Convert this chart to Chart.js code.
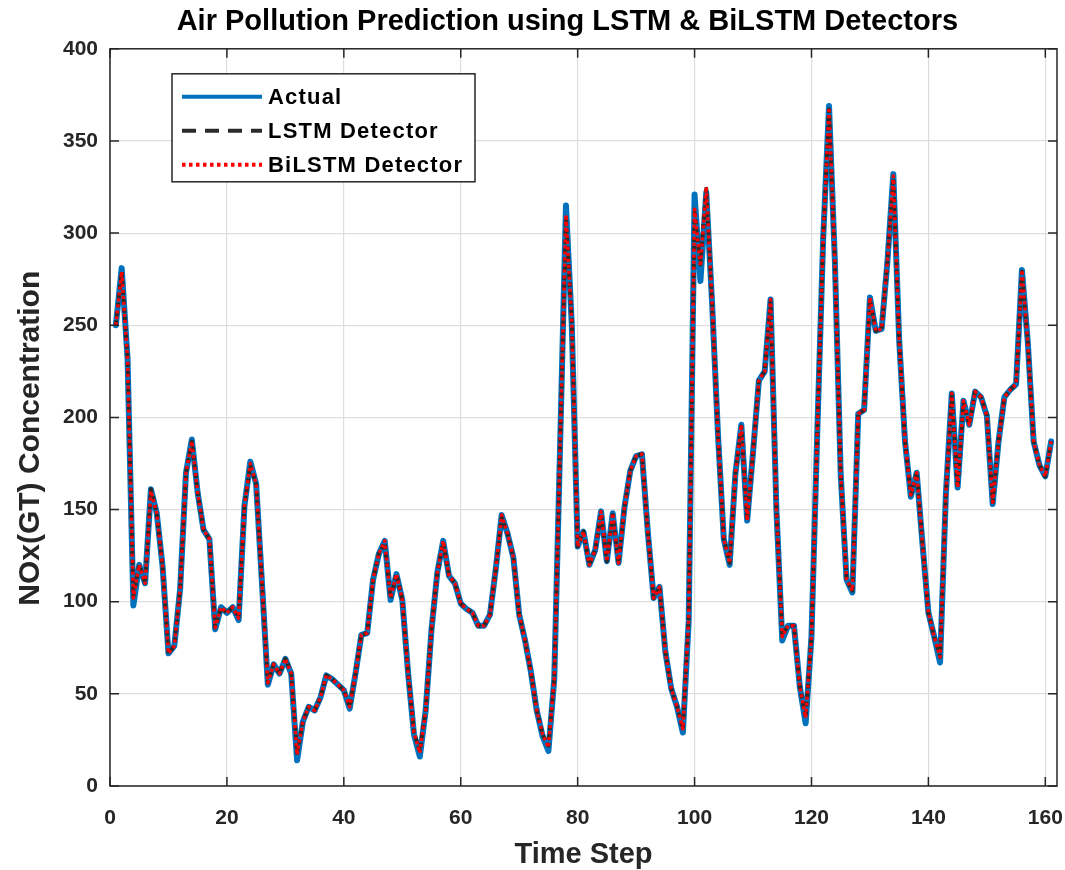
<!DOCTYPE html>
<html>
<head>
<meta charset="utf-8">
<title>Air Pollution Prediction</title>
<script src="https://cdn.jsdelivr.net/npm/chart.js@4.4.1/dist/chart.umd.min.js"></script>
<style>
  html, body { margin: 0; padding: 0; background: #fff; }
  #wrap { width: 1065px; height: 870px; }
</style>
</head>
<body>
<div id="wrap"><canvas id="chart" width="1065" height="870"></canvas></div>
<script>
// NOx(GT) values, one per time step (1..161)
const actual = [
  250, 281, 232, 98, 120, 110, 161, 148, 119, 72,
  76, 107, 170, 188, 159, 139, 134, 85, 97, 94,
  97, 90, 152, 176, 164, 110, 55, 66, 61, 69,
  61, 14, 35, 43, 41, 48, 60, 58, 55, 52,
  42, 61, 82, 83, 112, 126, 133, 101, 115, 101,
  61, 28, 16, 41, 85, 116, 133, 114, 110, 99,
  96, 94, 87, 87, 93, 118, 147, 137, 124, 93,
  79, 62, 41, 27, 19, 58, 185, 315, 250, 130,
  138, 120, 128, 149, 122, 148, 121, 151, 171, 179,
  180, 138, 102, 108, 73, 53, 43, 29, 90, 321,
  274, 322, 262, 191, 134, 120, 170, 196, 144, 181,
  220, 225, 264, 150, 79, 87, 87, 54, 34, 81,
  193, 297, 369, 285, 169, 112, 105, 202, 204, 265,
  247, 248, 285, 332, 242, 187, 157, 170, 131, 94,
  81, 67, 159, 213, 162, 209, 196, 214, 211, 201,
  153, 187, 211, 215, 218, 280, 241, 187, 174, 168,
  187
];

const lstm = [
  250, 279, 232, 103, 120, 110, 161, 148, 119, 72,
  76, 107, 170, 187, 159, 139, 134, 86, 97, 94,
  97, 91, 152, 174, 164, 110, 56, 66, 61, 69,
  61, 18, 35, 43, 41, 48, 60, 58, 55, 52,
  43, 61, 82, 83, 112, 126, 132, 102, 115, 101,
  61, 29, 19, 41, 85, 116, 132, 114, 110, 99,
  96, 94, 87, 87, 93, 118, 146, 137, 124, 93,
  79, 62, 41, 28, 22, 58, 185, 308, 252, 130,
  138, 120, 128, 148, 122, 147, 121, 151, 171, 179,
  180, 138, 102, 108, 73, 53, 43, 31, 92, 311,
  283, 324, 262, 191, 134, 121, 170, 195, 144, 181,
  220, 225, 263, 150, 82, 87, 87, 54, 37, 81,
  193, 297, 367, 285, 169, 112, 106, 202, 204, 264,
  247, 248, 285, 330, 242, 187, 158, 170, 131, 94,
  81, 70, 159, 212, 162, 208, 196, 214, 211, 201,
  154, 187, 211, 215, 218, 279, 241, 187, 174, 168,
  187
];

const bilstm = [
  250, 279, 232, 102, 120, 110, 160, 148, 119, 72,
  76, 107, 170, 187, 159, 139, 134, 86, 97, 94,
  97, 91, 152, 175, 164, 110, 56, 66, 61, 69,
  61, 17, 35, 43, 41, 48, 60, 58, 55, 52,
  43, 61, 82, 83, 112, 126, 133, 102, 115, 101,
  61, 29, 18, 41, 85, 116, 133, 114, 110, 99,
  96, 94, 87, 87, 93, 118, 147, 137, 124, 93,
  79, 62, 41, 28, 21, 58, 185, 310, 251, 130,
  138, 120, 128, 149, 122, 148, 121, 151, 171, 179,
  180, 138, 102, 108, 73, 53, 43, 31, 91, 313,
  282, 325, 262, 191, 134, 121, 170, 196, 144, 181,
  220, 225, 264, 150, 81, 87, 87, 54, 37, 81,
  193, 297, 368, 285, 169, 112, 106, 202, 204, 265,
  247, 248, 285, 331, 242, 187, 158, 170, 131, 94,
  81, 70, 159, 213, 162, 209, 196, 214, 211, 201,
  154, 187, 211, 215, 218, 280, 241, 187, 174, 168,
  187
];

const xTicks = [0, 20, 40, 60, 80, 100, 120, 140, 160];
const yTicks = [0, 50, 100, 150, 200, 250, 300, 350, 400];
const seriesNames = ['Actual', 'LSTM Detector', 'BiLSTM Detector'];

const timeSteps = actual.map((v, i) => i + 1);
const toPoints = (vals) => vals.map((v, i) => ({ x: timeSteps[i], y: v }));

const axisColor = '#262626';
const fontFamily = 'Liberation Sans, Arial, sans-serif';
const tickFont = { family: fontFamily, size: 21, weight: 'bold' };

// box with inward ticks on all four sides, like matlab "box on"
const axesFrame = {
  id: 'axesFrame',
  afterDatasetsDraw(chart) {
    const { ctx, chartArea: a, scales } = chart;
    ctx.save();
    ctx.strokeStyle = axisColor;
    ctx.lineWidth = 1.5;
    ctx.beginPath();
    scales.x.ticks.forEach((t) => {
      const px = scales.x.getPixelForValue(t.value);
      ctx.moveTo(px, a.bottom);
      ctx.lineTo(px, a.bottom - 9);
      ctx.moveTo(px, a.top);
      ctx.lineTo(px, a.top + 9);
    });
    scales.y.ticks.forEach((t) => {
      const py = scales.y.getPixelForValue(t.value);
      ctx.moveTo(a.left, py);
      ctx.lineTo(a.left + 9, py);
      ctx.moveTo(a.right, py);
      ctx.lineTo(a.right - 9, py);
    });
    ctx.stroke();
    ctx.strokeRect(a.left, a.top, a.right - a.left, a.bottom - a.top);
    ctx.restore();
  },
};

// legend box in the upper left of the axes
const boxLegend = {
  id: 'boxLegend',
  afterDraw(chart) {
    const { ctx, chartArea: a } = chart;
    const bx = a.left + 62;
    const by = a.top + 25;
    const bw = 303;
    const bh = 108;
    const legendDash = [[], [14, 9], [3.5, 3.5]];
    ctx.save();
    ctx.fillStyle = '#fff';
    ctx.fillRect(bx, by, bw, bh);
    ctx.strokeStyle = axisColor;
    ctx.lineWidth = 1.5;
    ctx.strokeRect(bx, by, bw, bh);
    ctx.font = 'bold 22px ' + fontFamily;
    ctx.letterSpacing = '1.2px';
    ctx.textBaseline = 'middle';
    chart.data.datasets.forEach((ds, i) => {
      const ry = by + 23 + i * 34;
      ctx.beginPath();
      ctx.setLineDash(legendDash[i]);
      ctx.strokeStyle = ds.borderColor;
      ctx.lineWidth = 4;
      ctx.moveTo(bx + 10, ry);
      ctx.lineTo(bx + 90, ry);
      ctx.stroke();
      ctx.setLineDash([]);
      ctx.fillStyle = '#000';
      ctx.fillText(seriesNames[i], bx + 96, ry + 1);
    });
    ctx.restore();
  },
};

const chartConfig = {
  type: 'line',
  data: {
    datasets: [
      {
        label: seriesNames[0],
        data: toPoints(actual),
        borderColor: '#0072BD',
        borderWidth: 6,
        borderJoinStyle: 'round',
        borderCapStyle: 'round',
        pointRadius: 0,
        tension: 0,
        order: 3,
      },
      {
        label: seriesNames[1],
        data: toPoints(lstm),
        borderColor: '#2b2b2b',
        borderWidth: 4,
        borderDash: [5, 4],
        borderJoinStyle: 'round',
        pointRadius: 0,
        tension: 0,
        order: 2,
      },
      {
        label: seriesNames[2],
        data: toPoints(bilstm),
        borderColor: '#ff0000',
        borderWidth: 3.5,
        borderDash: [3, 3],
        borderJoinStyle: 'round',
        pointRadius: 0,
        tension: 0,
        order: 1,
      },
    ],
  },
  options: {
    responsive: false,
    animation: false,
    devicePixelRatio: 1,
    layout: { padding: { left: 0, right: 8, top: 0, bottom: 0 } },
    plugins: {
      legend: { display: false },
      tooltip: { enabled: false },
      title: {
        display: true,
        // trailing spaces nudge the centred title a little to the left
        text: 'Air Pollution Prediction using LSTM & BiLSTM Detectors    ',
        fullSize: false,
        color: '#000',
        font: { family: fontFamily, size: 29, weight: 'bold' },
        padding: { top: 5, bottom: 9 },
      },
    },
    scales: {
      x: {
        type: 'linear',
        min: 0,
        max: 162,
        afterBuildTicks: (scale) => {
          scale.ticks = xTicks.map((v) => ({ value: v }));
        },
        afterFit: (scale) => {
          scale.height = 84;
          scale.paddingLeft = 0;
          scale.paddingRight = 0;
        },
        grid: { color: '#dedede', lineWidth: 1.2, drawTicks: false },
        border: { display: false },
        ticks: { color: axisColor, font: tickFont, padding: 20, maxRotation: 0 },
        title: {
          display: true,
          text: 'Time Step',
          color: axisColor,
          font: { family: fontFamily, size: 29, weight: 'bold' },
          padding: { top: 0, bottom: -2 },
        },
      },
      y: {
        type: 'linear',
        min: 0,
        max: 400,
        afterBuildTicks: (scale) => {
          scale.ticks = yTicks.map((v) => ({ value: v }));
        },
        afterFit: (scale) => {
          scale.width = 110;
        },
        grid: { color: '#dedede', lineWidth: 1.2, drawTicks: false },
        border: { display: false },
        ticks: { color: axisColor, font: tickFont, padding: 12 },
        title: {
          display: true,
          // trailing spaces push the rotated label a bit lower, as in the source
          text: 'NOx(GT) Concentration     ',
          color: axisColor,
          font: { family: fontFamily, size: 30, weight: 'bold' },
          padding: { top: 13, bottom: 0 },
        },
      },
    },
  },
  plugins: [axesFrame, boxLegend],
};

const ctx = document.getElementById('chart').getContext('2d');
const chart = new Chart(ctx, chartConfig);
</script>
</body>
</html>
